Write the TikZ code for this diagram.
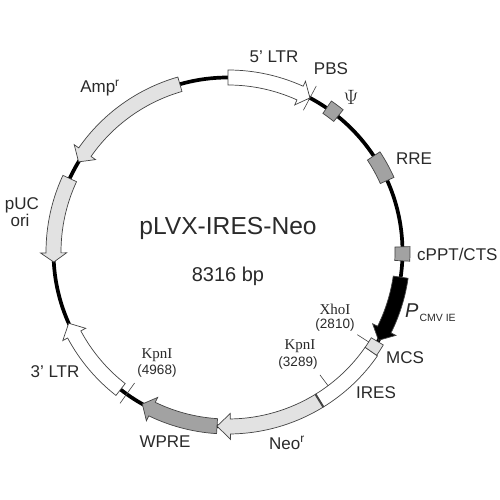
\documentclass[tikz,border=0pt]{standalone}
\usepackage{fontspec}
\setmainfont{Liberation Sans}
\newfontfamily\serifface{Liberation Serif}
\definecolor{txt}{HTML}{2A2A2A}
\definecolor{lightf}{HTML}{E2E2E2}
\definecolor{midf}{HTML}{A2A2A2}
\definecolor{edge}{HTML}{444444}
\newcommand{\fs}[1]{\fontsize{#1}{#1}\selectfont}
% start angle, base of head angle, tip angle, fill
\newcommand{\arcarrow}[4]{%
  \draw[feature,fill=#4] (#1:182) arc[start angle=#1,end angle=#2,radius=182] -- (#2:187.5) -- (#3:174.5) -- (#2:161.5) -- (#2:167) arc[start angle=#2,end angle=#1,radius=167] -- cycle;}
\newcommand{\arcbox}[5]{% start, end, inner, outer, fill
  \draw[feature,fill=#5] (#1:#4) arc[start angle=#1,end angle=#2,radius=#4] -- (#2:#3) arc[start angle=#2,end angle=#1,radius=#3] -- cycle;}
\tikzset{
  feature/.style={draw=edge,line width=0.7pt,line join=miter},
  ring/.style={draw=black,line width=3.7pt},
  tick/.style={draw=edge,line width=0.6pt},
  lab/.style={text=txt,font=\fs{17},inner sep=0pt},
  site/.style={text=txt,font=\serifface\fs{15},inner sep=0pt},
  sitepos/.style={text=txt,font=\fs{13.5},inner sep=0pt},
}
\begin{document}
\begin{tikzpicture}[x=1pt,y=1pt]
\useasboundingbox (0,0) rectangle (500,500);
\fill[white] (0,0) rectangle (500,500);
\begin{scope}[shift={(228,248)}]
\draw[ring] (0,0) circle[radius=174.5];
% features
\arcarrow{90}{65.6}{62}{white}
\arcarrow{106}{145.1}{148.9}{lightf}
\arcarrow{155.1}{180.3}{183.3}{lightf}
\arcarrow{-128}{-151.8}{-155.9}{white}
\arcarrow{-93.6}{-115.8}{-119.4}{midf}
\arcarrow{-58.4}{-89.2}{-93.6}{lightf}
\arcarrow{-8.3}{-26.4}{-30.4}{black}
\arcbox{-34.8}{-58.4}{167}{182}{white}
\draw[edge,line width=2pt] (-58.4:167) -- (-58.4:182);
\arcbox{-30.9}{-34.8}{167}{181}{lightf}
\arcbox{51}{55.6}{168}{183}{midf}
\arcbox{24.2}{33.4}{167}{182}{midf}
\arcbox{-2.9}{1.7}{167}{182}{midf}
% ticks
\draw[tick] (62:160.5) -- (62:188);
\draw[tick] (-125.5:161) -- (-125.5:186);
\draw[tick] (-53.2:153.5) -- (-53.2:167);
\draw[tick] (-32.6:153.5) -- (-32.6:167);
\end{scope}
% labels
\node[lab] (ltrfive) at (274,443) {5' LTR};
\node[lab] (pbs) at (331,431) {PBS};
\node[text=txt,font=\serifface\fs{22},inner sep=0pt] (psi) at (351,403) {$\Psi$};
\node[lab] (rre) at (414,341) {RRE};
\node[lab,anchor=west] (cppt) at (417,246) {cPPT/CTS};
\node[text=txt,inner sep=0pt,anchor=west] (pcmv) at (405,187) {\fs{20}\itshape P\kern1pt\raisebox{-4pt}{\upshape\fs{10.5}CMV IE}};
\node[lab] (mcs) at (405,142) {MCS};
\node[lab] (ires) at (376,107) {IRES};
\node[lab] (neo) at (287,57) {Neo\textsuperscript{r}};
\node[lab] (wpre) at (165,58) {WPRE};
\node[lab] (ltrthree) at (55,128) {3' LTR};
\node[lab] (amp) at (100,412) {Amp\textsuperscript{r}};
\node[lab] (puc) at (22,295) {pUC};
\node[lab] (ori) at (20,280) {ori};
\node[text=txt,font=\fs{24.6},inner sep=0pt] (title) at (228,272) {pLVX-IRES-Neo};
\node[text=txt,font=\fs{20},inner sep=0pt] (size) at (228,224) {8316 bp};
\node[site] (kpnA) at (157,145) {KpnI};
\node[sitepos] (kpnApos) at (157,129) {(4968)};
\node[site] (kpnB) at (300,154) {KpnI};
\node[sitepos] (kpnBpos) at (298,137) {(3289)};
\node[site] (xho) at (335,191) {XhoI};
\node[sitepos] (xhopos) at (335,175) {(2810)};
\end{tikzpicture}
\end{document}
